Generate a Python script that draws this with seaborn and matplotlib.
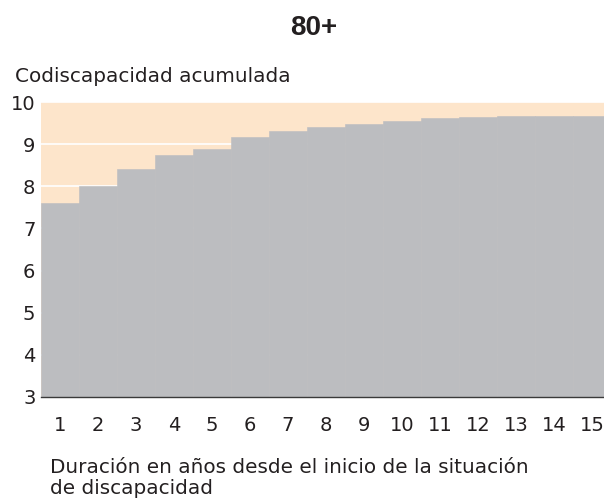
import matplotlib
matplotlib.use("Agg")
import matplotlib.pyplot as plt
import seaborn as sns
import pandas as pd

# Data
years = list(range(1, 16))
codisability = [7.61, 8.00, 8.41, 8.74, 8.89, 9.17, 9.31, 9.41, 9.48,
                9.55, 9.62, 9.64, 9.67, 9.67, 9.67]
y_ticks = [3, 4, 5, 6, 7, 8, 9, 10]

title = "80+"
y_title = "Codiscapacidad acumulada"
x_title = "Duración en años desde el inicio de la situación\nde discapacidad"

PEACH = "#fde5cb"
GREY = "#bcbdc0"
DARK = "#3a3a3a"
TEXT = "#231f20"

sns.set_theme(style="white")
plt.rcParams["font.family"] = ["DejaVu Sans"]

df = pd.DataFrame({"year": years, "value": codisability})

fig = plt.figure(figsize=(6.04, 4.99), dpi=100)
# axes runs past the right edge, like the cropped original
ax = fig.add_axes([41 / 604, 102 / 499, 570 / 604, 295 / 499])
ax.set_facecolor(PEACH)
ax.set_axisbelow(True)

sns.barplot(data=df, x="year", y="value", color=GREY, width=1.0,
            saturation=1, edgecolor=GREY, linewidth=0.4, ax=ax)

ax.set_ylim(3, 10)
ax.set_xlim(-0.5, 14.5)
ax.set_yticks(y_ticks)
ax.yaxis.grid(True, color="white", linewidth=1.2)
ax.xaxis.grid(False)

for side in ["left", "right", "top"]:
    ax.spines[side].set_visible(False)
ax.spines["bottom"].set_color(DARK)
ax.spines["bottom"].set_linewidth(1.0)

ax.set_xticks(range(len(years)))
ax.set_xticklabels([str(y) for y in years])
ax.set_xticks([i - 0.5 for i in range(len(years))], minor=True)
ax.tick_params(axis="x", which="major", length=0, pad=13.5, labelsize=14, labelcolor=TEXT)
ax.tick_params(axis="x", which="minor", length=5, width=1, color=DARK, direction="out")
ax.tick_params(axis="y", length=0, pad=4, labelsize=14, labelcolor=TEXT)
ax.set_xlabel("")
ax.set_ylabel("")

fig.text(314 / 604, 1 - 28 / 499, title, ha="center", va="center",
         fontsize=20, fontweight="bold", color=TEXT, family="Liberation Sans")
fig.text(15 / 604, 1 - 76 / 499, y_title, ha="left", va="center",
         fontsize=14.4, color=TEXT)
fig.text(50 / 604, 1 - 478 / 499, x_title, ha="left", va="center",
         fontsize=14.4, color=TEXT, linespacing=1.15)

fig.savefig("out.png", dpi=100)
